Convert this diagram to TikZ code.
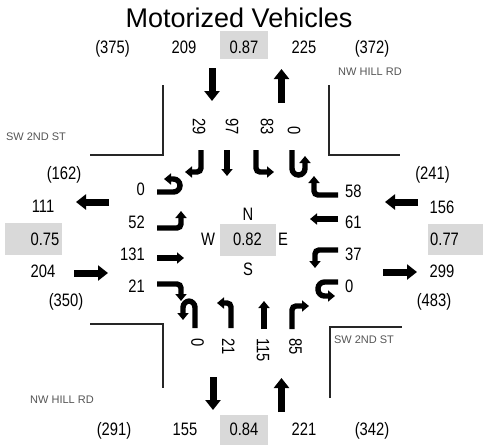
\documentclass[tikz,border=0pt]{standalone}
\usepackage{fontspec}
\setmainfont{Liberation Sans}
\newfontfamily\narrowsans{Liberation Sans}[FakeStretch=0.82]
\usepackage{tikz}
\usetikzlibrary{arrows.meta}
\definecolor{cbox}{HTML}{D9D9D9}
\definecolor{croad}{HTML}{555555}
\tikzset{
  num/.style={font=\narrowsans\fontsize{18}{18}\selectfont, inner sep=0pt, anchor=base},
  vol/.style={font=\narrowsans\fontsize{18}{18}\selectfont, inner sep=0pt, rotate=-90},
  road/.style={font=\fontsize{11}{11}\selectfont, text=croad, inner sep=0pt},
  curb/.style={line width=1.8pt, draw=black!85},
  bigarr/.style={line width=7pt, -{Triangle[width=15pt,length=10pt]}},
  lane/.style={line width=5.4pt, rounded corners=4pt, -{Triangle[width=11pt,length=7pt]}},
  uturn/.style={lane, rounded corners=6.5pt}
}
\begin{document}
\begin{tikzpicture}[x=1pt, y=-1pt]
\useasboundingbox (0,0) rectangle (483,445);
\node[font=\fontsize{27}{27}\selectfont, inner sep=0pt, anchor=base] (title) at (239,27) {Motorized Vehicles};
\fill[cbox] (220,31) rectangle (268,59);
\fill[cbox] (5,223) rectangle (62,255);
\fill[cbox] (220,224) rectangle (276,256);
\fill[cbox] (428,224) rectangle (483,255);
\fill[cbox] (220,415) rectangle (268,445);
% north leg
\node[num] (nOutTot) at (112.5,53) {(375)};
\node[num] (nOut) at (184,53) {209};
\node[num] (nPhf) at (244,53) {0.87};
\node[num] (nIn) at (304,53) {225};
\node[num] (nInTot) at (372,53) {(372)};
\node[road] (nRoad) at (370,72) {NW HILL RD};
\node[vol, anchor=east] (nR) at (199,135) {29};
\node[vol, anchor=east] (nT) at (232,135) {97};
\node[vol, anchor=east] (nL) at (267,135) {83};
\node[vol, anchor=east] (nU) at (294,135) {0};
\draw[bigarr] (212,68) -- (212,101);
\draw[bigarr] (281.5,103) -- (281.5,69);
\draw[lane] (201,150) -- (201,172) -- (185,172);
\draw[lane] (227,150) -- (227,176);
\draw[lane] (256,150) -- (256,172) -- (274,172);
\draw[uturn] (292,150) -- (292,175) -- (305,175) -- (305,156);
% west leg
\node[road] (wRoad) at (36,137) {SW 2ND ST};
\node[num] (wInTot) at (64,179) {(162)};
\node[num] (wOut) at (43,212) {111};
\node[num] (wPhf) at (45,245) {0.75};
\node[num] (wIn) at (43,277) {204};
\node[num] (wOutTot) at (66,306) {(350)};
\node[num, anchor=base east] (wU) at (145,195) {0};
\node[num, anchor=base east] (wL) at (145,228) {52};
\node[num, anchor=base east] (wT) at (145,260) {131};
\node[num, anchor=base east] (wR) at (145,292) {21};
\draw[bigarr] (109,202) -- (76,202);
\draw[bigarr] (74,273) -- (108,273);
\draw[uturn] (157,192) -- (180,192) -- (180,179) -- (164,179);
\draw[lane] (157,228) -- (181,228) -- (181,211);
\draw[lane] (157,258) -- (184,258);
\draw[lane] (157,284) -- (181,284) -- (181,301);
% centre
\node[num] (cN) at (248,220) {N};
\node[num] (cW) at (208,245) {W};
\node[num] (cPhf) at (247.5,245) {0.82};
\node[num] (cE) at (283,245) {E};
\node[num] (cS) at (248,275) {S};
% east leg
\node[num] (eInTot) at (432.5,179) {(241)};
\node[num] (eIn) at (442,213) {156};
\node[num, anchor=base west] (ePhf) at (430,245) {0.77};
\node[num] (eOut) at (442,277) {299};
\node[num] (eOutTot) at (434,306) {(483)};
\node[num, anchor=base west] (eR) at (345,197) {58};
\node[num, anchor=base west] (eT) at (345,228) {61};
\node[num, anchor=base west] (eL) at (345,260) {37};
\node[num, anchor=base west] (eU) at (345,292) {0};
\node[road] (eRoad) at (364,340) {SW 2ND ST};
\draw[bigarr] (418,202) -- (385,202);
\draw[bigarr] (383,272) -- (417,272);
\draw[lane] (338,195) -- (314,195) -- (314,176);
\draw[lane] (338,219) -- (310,219);
\draw[lane] (338,250) -- (315,250) -- (315,268);
\draw[uturn] (338,282) -- (318,282) -- (318,296) -- (335,296);
% south leg
\node[vol, anchor=west] (sU) at (197.5,338) {0};
\node[vol, anchor=west] (sL) at (228.5,338) {21};
\node[vol, anchor=west] (sT) at (263,338) {115};
\node[vol, anchor=west] (sR) at (295.5,338) {85};
\node[road] (sRoad) at (62,400) {NW HILL RD};
\node[num] (sOutTot) at (114,435) {(291)};
\node[num] (sOut) at (185,435) {155};
\node[num] (sPhf) at (244,435) {0.84};
\node[num] (sIn) at (304,435) {221};
\node[num] (sInTot) at (372,435) {(342)};
\draw[bigarr] (213,377) -- (213,410);
\draw[bigarr] (281.5,412) -- (281.5,378);
\draw[uturn] (195,328) -- (195,301) -- (183,301) -- (183,320);
\draw[lane] (231,328) -- (231,303) -- (217,303);
\draw[lane] (264,329) -- (264,301);
\draw[lane] (292,329) -- (292,306) -- (309,306);
% curbs
\draw[curb] (163,85) -- (163,155) -- (90,155);
\draw[curb] (329,85) -- (329,155) -- (400,155);
\draw[curb] (90,324) -- (163,324) -- (163,388);
\draw[curb] (330,398) -- (330,327) -- (402,327);
\end{tikzpicture}
\end{document}
